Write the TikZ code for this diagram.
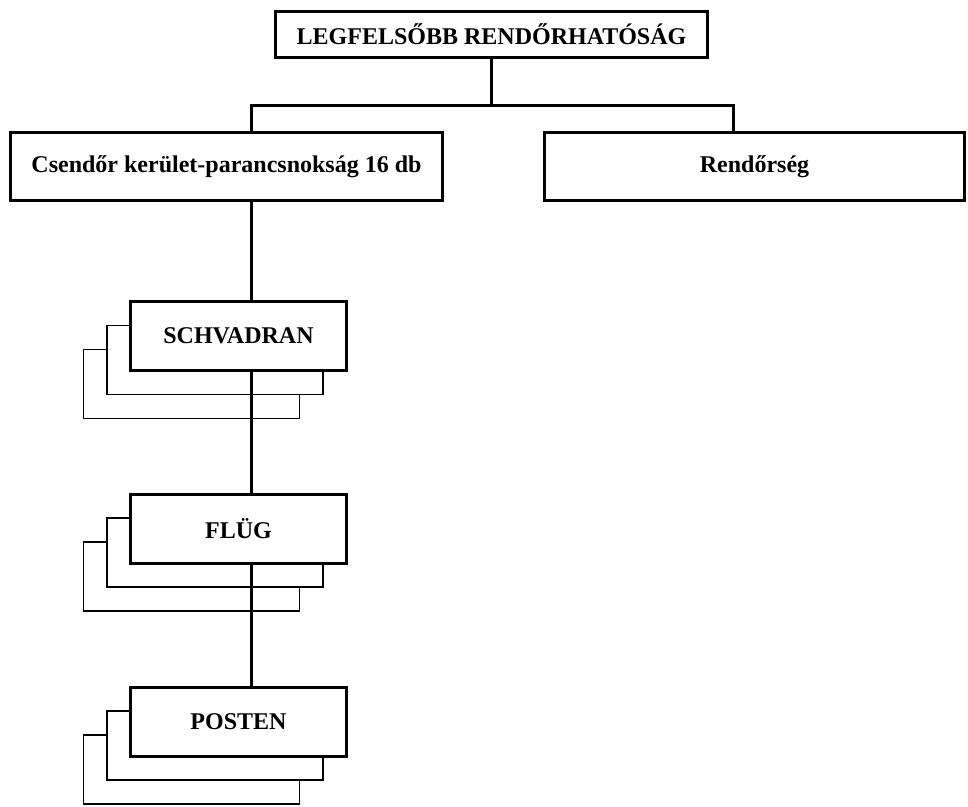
\documentclass[tikz,border=0pt]{standalone}
\usepackage{fontspec}
\setmainfont{Liberation Serif}
\usepackage{tikz}
\usetikzlibrary{calc, backgrounds, positioning}
\tikzset{
    boxnode/.style = {draw, rectangle, fill=white, line width=1.5pt, inner sep=0em, 
      node distance=0em, font=\bfseries\fontsize{12}{14}\selectfont},
    unitnode/.style = {boxnode, minimum width=108pt, minimum height=34.5pt},
    backnode/.style = {draw, rectangle, fill=white, line width=0.85pt, 
      node distance=0em, minimum width=108pt, minimum height=34.5pt},
    connect/.style = {black, line width=1.5pt, -}
}

\begin{document}
\begin{tikzpicture}[x=0.5pt, y=-0.5pt]
\useasboundingbox (0,0) rectangle (968,807);
\node[boxnode, name=top, minimum width=216pt, minimum height=23pt] at (491.5,34.5) {LEGFELSŐBB RENDŐRHATÓSÁG};
\node[boxnode, name=csendor, minimum width=216pt, minimum height=34pt, below of = top, xshift=-132.5pt, yshift=-66pt] {Csendőr kerület-parancsnokság 16 db};
\node[boxnode, name=rendorseg, minimum width=210pt, minimum height=34pt, right of = csendor, xshift=264pt] {Rendőrség};
\node[unitnode, name=schvadran, below of = csendor, xshift=6pt, yshift=-84.75pt] {SCHVADRAN};
\node[unitnode, name=flug, below of = schvadran, yshift=-96.25pt] {FLÜG};
\node[unitnode, name=posten, below of = flug, yshift=-96.5pt] {POSTEN};
% stacked copies behind each unit
\begin{scope}[on background layer]
\node[backnode, name=schvadranC, below left of = schvadran, xshift=-23.5pt, yshift=-24pt] {};
\node[backnode, name=schvadranB, below left of = schvadran, xshift=-11.75pt, yshift=-12pt] {};
\node[backnode, name=flugC, below left of = flug, xshift=-23.5pt, yshift=-24pt] {};
\node[backnode, name=flugB, below left of = flug, xshift=-11.75pt, yshift=-12pt] {};
\node[backnode, name=postenC, below left of = posten, xshift=-23.5pt, yshift=-24pt] {};
\node[backnode, name=postenB, below left of = posten, xshift=-11.75pt, yshift=-12pt] {};
\end{scope}
\coordinate (leftbranch) at (251,106);
\coordinate (rightbranch) at (733,106);
\draw[connect] (top.south) -- (top.south |- leftbranch);
\draw[connect] (leftbranch |- csendor.north) -- (leftbranch) -- (rightbranch) -- (rightbranch |- rendorseg.north);
\draw[connect] (leftbranch |- csendor.south) -- (leftbranch |- schvadran.north);
\draw[connect] (leftbranch |- schvadran.south) -- (leftbranch |- flug.north);
\draw[connect] (leftbranch |- flug.south) -- (leftbranch |- posten.north);
\end{tikzpicture}
\end{document}
